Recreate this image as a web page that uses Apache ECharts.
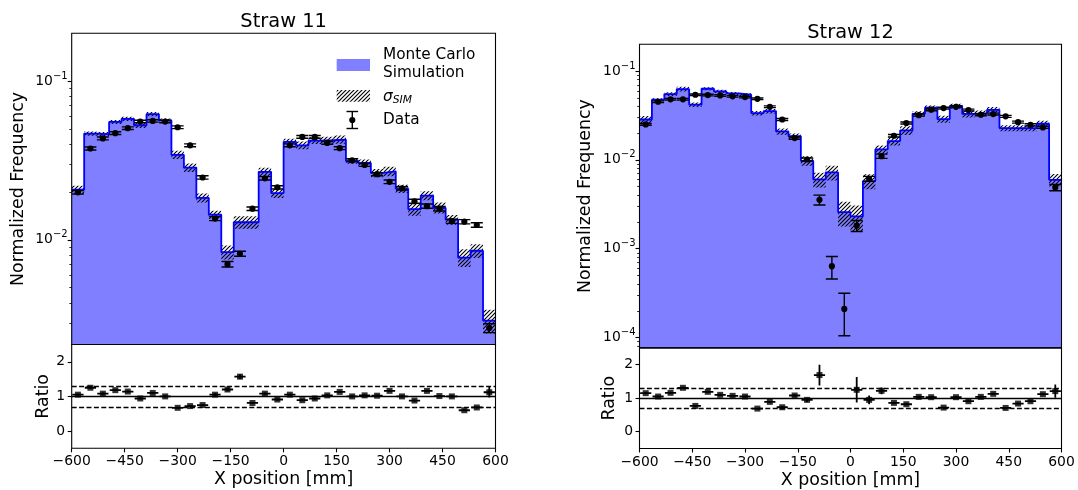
<!DOCTYPE html>
<html>
<head>
<meta charset="utf-8">
<title>Straw 11 / Straw 12</title>
<script src="https://cdn.jsdelivr.net/npm/echarts@6/dist/echarts.min.js"></script>
<style>
  html, body { margin: 0; padding: 0; background: #fff; }
  #chart { width: 1078px; height: 490px; }
</style>
</head>
<body>
<div id="chart"></div>
<script>
// Histogram binning along the straw (mm)
const X_MIN = -600;
const X_MAX = 600;
const N_BINS = 34;
const xTickStep = 150;

// Straw 11: Monte Carlo simulation, its uncertainty, measured data, and Sim/Data ratio
const straw11Sim = [0.0207, 0.0467, 0.0463, 0.0553, 0.0578, 0.0527, 0.0619, 0.0565, 0.0343, 0.0285,
  0.0184, 0.0144, 0.00836, 0.0129, 0.0129, 0.0268, 0.0197, 0.0414, 0.0394, 0.0422,
  0.0424, 0.0428, 0.0314, 0.0305, 0.0264, 0.0270, 0.0210, 0.0156, 0.0190, 0.0159,
  0.0134, 0.00773, 0.00853, 0.0031];
const straw11SimErr = [0.00124, 0.0014, 0.00139, 0.00166, 0.00173, 0.00211, 0.00186, 0.0017, 0.00206, 0.00171,
  0.0012, 0.00086, 0.00084, 0.00116, 0.00116, 0.00161, 0.00138, 0.00186, 0.00217, 0.00211,
  0.00212, 0.00257, 0.00126, 0.00153, 0.00158, 0.00189, 0.00126, 0.0014, 0.00124, 0.00127,
  0.00094, 0.0010, 0.00085, 0.00053];
const straw11Data = [0.0199, 0.0376, 0.0435, 0.0470, 0.0505, 0.0556, 0.0561, 0.0556, 0.0512, 0.0394,
  0.0247, 0.0136, 0.00702, 0.00817, 0.0157, 0.0244, 0.0214, 0.0394, 0.0445, 0.0445,
  0.0408, 0.0378, 0.0317, 0.0296, 0.0259, 0.0232, 0.0211, 0.0175, 0.0163, 0.0157,
  0.0131, 0.0130, 0.0124, 0.00278];
const straw11DataErr = [0.0005, 0.0008, 0.0009, 0.0009, 0.001, 0.001, 0.001, 0.001, 0.001, 0.0008,
  0.0006, 0.0004, 0.00028, 0.0003, 0.0004, 0.0006, 0.0005, 0.0008, 0.0009, 0.0009,
  0.0008, 0.0008, 0.0007, 0.0006, 0.0006, 0.0006, 0.0005, 0.0005, 0.0005, 0.0005,
  0.0004, 0.0004, 0.0004, 0.00018];
const straw11Ratio = [1.05, 1.25, 1.08, 1.18, 1.14, 0.94, 1.10, 1.00, 0.67, 0.72,
  0.75, 1.05, 1.20, 1.57, 0.81, 1.08, 0.91, 1.05, 0.89, 0.94,
  1.03, 1.13, 1.00, 1.03, 1.02, 1.16, 1.00, 0.88, 1.16, 1.01,
  1.00, 0.60, 0.68, 1.12];
const straw11RatioErr = [0.03, 0.03, 0.03, 0.03, 0.03, 0.03, 0.03, 0.03, 0.02, 0.02,
  0.03, 0.04, 0.05, 0.07, 0.03, 0.03, 0.03, 0.03, 0.03, 0.03,
  0.03, 0.03, 0.03, 0.03, 0.03, 0.03, 0.03, 0.03, 0.03, 0.03,
  0.03, 0.02, 0.03, 0.15];
const straw11Decades = [-2, -1];

// Straw 12
const straw12Sim = [0.0285, 0.0476, 0.0550, 0.0626, 0.0418, 0.0632, 0.0590, 0.0560, 0.0541, 0.0336,
  0.0354, 0.0209, 0.0185, 0.00977, 0.00603, 0.00722, 0.00258, 0.00231, 0.00577, 0.0131,
  0.0163, 0.0215, 0.0330, 0.0386, 0.0288, 0.0404, 0.0330, 0.0336, 0.0366, 0.0228,
  0.0228, 0.0228, 0.0255, 0.00597];
const straw12SimErr = [0.0027, 0.0019, 0.00275, 0.0038, 0.0025, 0.0025, 0.0024, 0.0022, 0.0022, 0.0020,
  0.0021, 0.0017, 0.0013, 0.0012, 0.00115, 0.00137, 0.0008, 0.00076, 0.0011, 0.00144,
  0.0018, 0.0024, 0.0023, 0.0023, 0.0026, 0.0024, 0.0030, 0.0024, 0.0029, 0.0018,
  0.0018, 0.0018, 0.0020, 0.00096];
const straw12Data = [0.0251, 0.0451, 0.0480, 0.0480, 0.0541, 0.0537, 0.0532, 0.0519, 0.0509, 0.0487,
  0.0396, 0.0285, 0.0176, 0.0101, 0.00356, 0.000636, 0.00021, 0.00182, 0.00613, 0.0110,
  0.0187, 0.0260, 0.0319, 0.0367, 0.0383, 0.0396, 0.0364, 0.0322, 0.0328, 0.0309,
  0.0266, 0.0248, 0.0232, 0.00489];
const straw12DataErr = [0.0006, 0.001, 0.001, 0.001, 0.0011, 0.0011, 0.0011, 0.001, 0.001, 0.001,
  0.0009, 0.0007, 0.0005, 0.0004, 0.00045, 0.00018, 0.000105, 0.00026, 0.0004, 0.0006,
  0.0006, 0.0007, 0.0008, 0.0009, 0.0009, 0.0009, 0.0009, 0.0008, 0.0008, 0.0008,
  0.0007, 0.0007, 0.0006, 0.0004];
const straw12Ratio = [1.15, 1.05, 1.16, 1.31, 0.77, 1.19, 1.10, 1.07, 1.05, 0.69,
  0.89, 0.73, 1.08, 0.95, 1.69, 11.4, 12.3, 1.25, 0.95, 1.22,
  0.86, 0.82, 1.04, 1.03, 0.72, 1.03, 0.91, 1.04, 1.13, 0.71,
  0.84, 0.91, 1.12, 1.21];
const straw12RatioErr = [0.03, 0.03, 0.03, 0.03, 0.02, 0.03, 0.03, 0.03, 0.03, 0.02,
  0.03, 0.03, 0.04, 0.06, 0.31, 2.0, 3.0, 0.38, 0.13, 0.10,
  0.03, 0.03, 0.03, 0.03, 0.02, 0.03, 0.03, 0.03, 0.03, 0.02,
  0.03, 0.03, 0.03, 0.20];
const straw12Decades = [-4, -3, -2, -1];

// Ratio panel: tick labels and the ±30 % guide lines
const ratioTicks = [0, 1, 2];
const ratioUnity = 1;
const ratioBand = [0.7, 1.3];

const FONT = 'DejaVu Sans';
const BIN_W = (X_MAX - X_MIN) / N_BINS;
const edges = Array.from({ length: N_BINS + 1 }, (_, i) => X_MIN + i * BIN_W);
const centers = edges.slice(0, N_BINS).map(e => e + BIN_W / 2);

// "////" hatch tile
function makeHatchTile() {
  const s = 4;
  const c = document.createElement('canvas');
  c.width = s; c.height = s;
  const g = c.getContext('2d');
  g.strokeStyle = '#000';
  g.lineWidth = 1.1;
  g.beginPath();
  g.moveTo(0, s); g.lineTo(s, 0);
  g.moveTo(-1, 1); g.lineTo(1, -1);
  g.moveTo(s - 1, s + 1); g.lineTo(s + 1, s - 1);
  g.stroke();
  return c;
}
const hatchFill = { image: makeHatchTile(), repeat: 'repeat' };

const CAP = 6;           // half-width of error-bar caps, px
const RATIO_XERR = BIN_W * 0.45;

const panels = [
  {
    title: 'Straw 11', sim: straw11Sim, simErr: straw11SimErr, data: straw11Data, dataErr: straw11DataErr,
    ratio: straw11Ratio, ratioErr: straw11RatioErr, decades: straw11Decades, yMin: 0.00219, yMax: 0.2,
    left: 71.7, width: 423.8, top: 33.3, mainH: 311.2, ratioH: 103.8, titleY: 21.5,
    yNameGap: 45, ratioNameGap: 20, xNameGap: 22.5
  },
  {
    title: 'Straw 12', sim: straw12Sim, simErr: straw12SimErr, data: straw12Data, dataErr: straw12DataErr,
    ratio: straw12Ratio, ratioErr: straw12RatioErr, decades: straw12Decades, yMin: 7.65e-5, yMax: 0.2,
    left: 639.5, width: 422, top: 44.3, mainH: 303.6, ratioH: 101.2, titleY: 32.5,
    yNameGap: 45.5, ratioNameGap: 21.5, xNameGap: 23.5
  }
];

function minorLogTicks(lo, hi) {
  const out = [];
  for (let e = Math.floor(lo) - 1; e <= Math.ceil(hi); e++) {
    for (let k = 2; k <= 9; k++) {
      const v = e + Math.log10(k);
      if (v > lo && v < hi) out.push(v);
    }
  }
  return out;
}

function hatchItem(params, api) {
  const x0 = api.value(0), x1 = api.value(1), v = api.value(2), s = api.value(3);
  const p0 = api.coord([x0, v + s]);
  const p1 = api.coord([x1, v - s]);
  return {
    type: 'rect',
    shape: { x: p0[0], y: p0[1], width: p1[0] - p0[0], height: p1[1] - p0[1] },
    style: { fill: hatchFill, stroke: null }
  };
}

function dataPointItem(params, api) {
  const x = api.value(0), v = api.value(1), e = api.value(2);
  const c = api.coord([x, v]);
  const t = api.coord([x, v + e]);
  const b = api.coord([x, v - e]);
  const st = { stroke: '#000', lineWidth: 1.4 };
  return {
    type: 'group',
    children: [
      { type: 'line', shape: { x1: c[0], y1: t[1], x2: c[0], y2: b[1] }, style: st },
      { type: 'line', shape: { x1: c[0] - CAP, y1: t[1], x2: c[0] + CAP, y2: t[1] }, style: st },
      { type: 'line', shape: { x1: c[0] - CAP, y1: b[1], x2: c[0] + CAP, y2: b[1] }, style: st },
      { type: 'circle', shape: { cx: c[0], cy: c[1], r: 3.1 }, style: { fill: '#000' } }
    ]
  };
}

function ratioBarItem(params, api) {
  const x = api.value(0), r = api.value(1), e = api.value(2);
  const l = api.coord([x - RATIO_XERR, r]);
  const rr = api.coord([x + RATIO_XERR, r]);
  const t = api.coord([x, r + e]);
  const b = api.coord([x, r - e]);
  const st = { stroke: '#000', lineWidth: 1.8 };
  return {
    type: 'group',
    children: [
      { type: 'line', shape: { x1: l[0], y1: l[1], x2: rr[0], y2: rr[1] }, style: st },
      { type: 'line', shape: { x1: t[0], y1: t[1], x2: b[0], y2: b[1] }, style: st }
    ]
  };
}

const tickLabelStyle = { color: '#000', fontFamily: FONT, fontSize: 13.9 };
const nameStyle = { color: '#000', fontFamily: FONT, fontSize: 17.4 };
const noLine = { show: false, onZero: false };

const grid = [], xAxis = [], yAxis = [], series = [], graphic = [];

panels.forEach((p, i) => {
  const gMain = 2 * i, gRatio = 2 * i + 1;
  const yLog = 4 * i, yRatio = 4 * i + 3;
  const logLo = Math.log10(p.yMin), logHi = Math.log10(p.yMax);

  const frame = { show: true, z: 10, backgroundColor: 'transparent', borderColor: '#000', borderWidth: 1.1 };
  grid.push(Object.assign({ left: p.left, top: p.top, width: p.width, height: p.mainH }, frame));
  grid.push(Object.assign({ left: p.left, top: p.top + p.mainH, width: p.width, height: p.ratioH }, frame));

  xAxis.push({ type: 'value', gridIndex: gMain, min: X_MIN, max: X_MAX, show: false, axisLine: noLine });
  xAxis.push({
    type: 'value', gridIndex: gRatio, position: 'bottom', min: X_MIN, max: X_MAX, interval: xTickStep,
    axisLine: noLine,
    axisTick: { show: true, length: 4, lineStyle: { color: '#000', width: 1.1 } },
    axisLabel: Object.assign({ margin: 6.5, formatter: v => String(v).replace('-', '\u2212') }, tickLabelStyle),
    splitLine: { show: false },
    name: 'X position [mm]', nameLocation: 'middle', nameGap: p.xNameGap, nameTextStyle: nameStyle,
    nameMoveOverlap: false
  });

  // log axis that places the histogram and data
  yAxis.push({ type: 'log', logBase: 10, gridIndex: gMain, min: p.yMin, max: p.yMax, show: false, axisLine: noLine });
  // decade ticks and labels on the same span, in log10 units
  yAxis.push({
    type: 'value', gridIndex: gMain, position: 'left', min: logLo, max: logHi,
    axisLine: noLine,
    axisTick: { show: true, length: 4, customValues: p.decades, lineStyle: { color: '#000', width: 1.1 } },
    axisLabel: Object.assign({
      margin: 4, customValues: p.decades,
      formatter: v => '{b|10}{s|\u2212' + Math.round(-v) + '}',
      rich: {
        b: { fontFamily: FONT, fontSize: 13.9, color: '#000' },
        s: { fontFamily: FONT, fontSize: 10, color: '#000', padding: [0, 0, 10, 0] }
      }
    }, tickLabelStyle),
    splitLine: { show: false },
    name: 'Normalized Frequency', nameLocation: 'middle', nameGap: p.yNameGap, nameTextStyle: nameStyle,
    nameMoveOverlap: false
  });
  // minor ticks at 2..9 × 10^k
  yAxis.push({
    type: 'value', gridIndex: gMain, position: 'left', min: logLo, max: logHi,
    axisLine: noLine,
    axisTick: { show: true, length: 2.4, customValues: minorLogTicks(logLo, logHi), lineStyle: { color: '#000', width: 0.8 } },
    axisLabel: { show: false },
    splitLine: { show: false }
  });
  yAxis.push({
    type: 'value', gridIndex: gRatio, position: 'left', min: -0.5, max: 2.5,
    axisLine: noLine,
    axisTick: { show: true, length: 4, customValues: ratioTicks, lineStyle: { color: '#000', width: 1.1 } },
    axisLabel: Object.assign({ margin: 6.5, customValues: ratioTicks }, tickLabelStyle),
    splitLine: { show: false },
    name: 'Ratio', nameLocation: 'middle', nameGap: p.ratioNameGap, nameTextStyle: nameStyle,
    nameMoveOverlap: false
  });

  const stepData = p.sim.map((v, k) => [edges[k], v]);
  stepData.push([X_MAX, p.sim[N_BINS - 1]]);

  series.push({
    type: 'line', xAxisIndex: gMain, yAxisIndex: yLog, data: stepData, step: 'end',
    showSymbol: false, symbol: 'none', lineStyle: { width: 0, opacity: 0 },
    areaStyle: { origin: 'start', color: 'rgba(0,0,255,0.5)', opacity: 1 }, z: 1, silent: true
  });
  series.push({
    type: 'custom', xAxisIndex: gMain, yAxisIndex: yLog, renderItem: hatchItem, clip: true, z: 2, silent: true,
    encode: { x: [0, 1], y: 2 },
    data: p.sim.map((v, k) => [edges[k], edges[k + 1], v, p.simErr[k]])
  });
  series.push({
    type: 'line', xAxisIndex: gMain, yAxisIndex: yLog, data: stepData, step: 'end',
    showSymbol: false, symbol: 'none', lineStyle: { color: '#0000ff', width: 1.8 }, z: 3, silent: true
  });
  series.push({
    type: 'custom', xAxisIndex: gMain, yAxisIndex: yLog, renderItem: dataPointItem, clip: true, z: 4, silent: true,
    encode: { x: 0, y: 1 },
    data: p.data.map((v, k) => [centers[k], v, p.dataErr[k]])
  });

  series.push({
    type: 'custom', xAxisIndex: gRatio, yAxisIndex: yRatio, renderItem: ratioBarItem, clip: true, z: 3, silent: true,
    encode: { x: 0, y: 1 },
    data: p.ratio.map((r, k) => [centers[k], r, p.ratioErr[k]])
  });
  series.push({
    type: 'scatter', xAxisIndex: gRatio, yAxisIndex: yRatio, symbol: 'rect', symbolSize: 6,
    itemStyle: { color: '#000' }, clip: true, z: 4, silent: true,
    data: p.ratio.map((r, k) => [centers[k], r]),
    markLine: {
      silent: true, symbol: 'none', animation: false, label: { show: false },
      lineStyle: { color: '#000', width: 1.3 },
      data: [
        { yAxis: ratioUnity, lineStyle: { type: 'solid' } },
        { yAxis: ratioBand[0], lineStyle: { type: [5, 2.4] } },
        { yAxis: ratioBand[1], lineStyle: { type: [5, 2.4] } }
      ]
    }
  });

  graphic.push({
    type: 'text', x: p.left + p.width / 2, y: p.titleY, silent: true,
    style: { text: p.title, fontFamily: FONT, fontSize: 19.4, fill: '#000', align: 'center', verticalAlign: 'middle' }
  });
});

// legend box of the Straw 11 panel
const legendText = { fontFamily: FONT, fontSize: 15.3, fill: '#000' };
graphic.push(
  { type: 'rect', shape: { x: 336.7, y: 59, width: 33.3, height: 12 }, style: { fill: 'rgba(0,0,255,0.5)' }, silent: true },
  { type: 'text', x: 383, y: 46, silent: true,
    style: Object.assign({ text: 'Monte Carlo\nSimulation', lineHeight: 18.3, verticalAlign: 'top' }, legendText) },
  { type: 'rect', shape: { x: 336.7, y: 90, width: 33.3, height: 11.7 }, style: { fill: hatchFill }, silent: true },
  { type: 'text', x: 383, y: 97.5, silent: true,
    style: {
      text: '{g|\u03c3}{b|SIM}', verticalAlign: 'middle',
      rich: {
        g: { fontFamily: FONT, fontSize: 15.3, fontStyle: 'italic', fill: '#000' },
        b: { fontFamily: FONT, fontSize: 10.7, fontStyle: 'italic', fill: '#000', padding: [6, 0, 0, 0] }
      }
    } },
  { type: 'line', shape: { x1: 352.3, y1: 111.5, x2: 352.3, y2: 128.5 }, style: { stroke: '#000', lineWidth: 1.4 }, silent: true },
  { type: 'line', shape: { x1: 346.5, y1: 111.5, x2: 358.1, y2: 111.5 }, style: { stroke: '#000', lineWidth: 1.4 }, silent: true },
  { type: 'line', shape: { x1: 346.5, y1: 128.5, x2: 358.1, y2: 128.5 }, style: { stroke: '#000', lineWidth: 1.4 }, silent: true },
  { type: 'circle', shape: { cx: 352.3, cy: 120, r: 3.1 }, style: { fill: '#000' }, silent: true },
  { type: 'text', x: 383, y: 120, silent: true, style: Object.assign({ text: 'Data', verticalAlign: 'middle' }, legendText) }
);

const chart = echarts.init(document.getElementById('chart'), null, { renderer: 'canvas' });
chart.setOption({
  animation: false,
  backgroundColor: '#fff',
  textStyle: { fontFamily: FONT },
  grid, xAxis, yAxis, series, graphic
});
</script>
</body>
</html>
